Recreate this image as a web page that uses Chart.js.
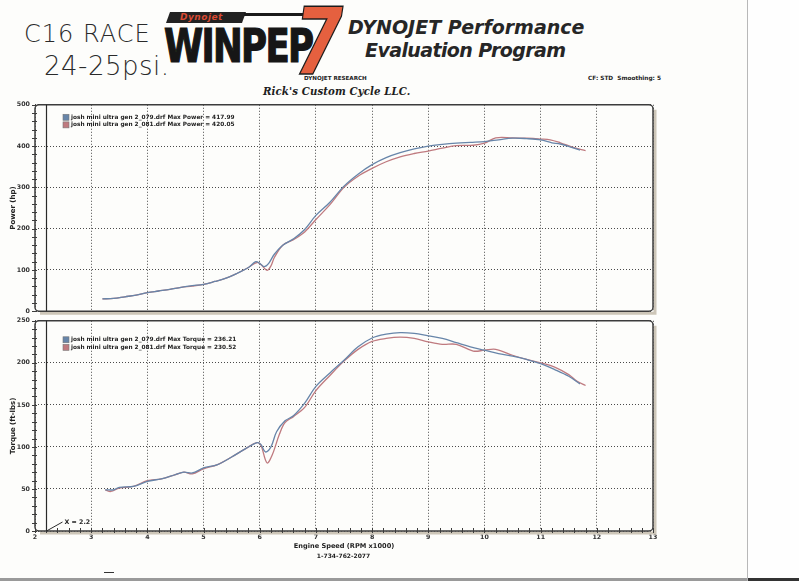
<!DOCTYPE html>
<html>
<head>
<meta charset="utf-8">
<script src="https://cdn.jsdelivr.net/npm/chart.js@4.4.1/dist/chart.umd.min.js"></script>
<style>
  body { margin: 0; width: 799px; height: 581px; position: relative; overflow: hidden; background: #fdfdfb; font-family: "DejaVu Sans", sans-serif; color: #222; }
  .abs { position: absolute; white-space: nowrap; }
  .hand { font-family: "DejaVu Sans", sans-serif; font-weight: 200; color: #2a2a2a; }
  #winpep { left: 164px; top: 18px; font-family: "DejaVu Sans Condensed", "DejaVu Sans", sans-serif; font-weight: bold; font-size: 47px; letter-spacing: -2px; transform: scaleX(0.84); transform-origin: left top; color: #161616; -webkit-text-stroke: 1.2px #161616; }
  #seven { left: 294px; top: -12px; font-family: "DejaVu Sans", sans-serif; font-weight: bold; font-style: italic; font-size: 93px; color: #e5603f; -webkit-text-stroke: 1.5px #1c1c1c; transform: scaleX(0.76); transform-origin: left top; }
  #dynoBadge { left: 168px; top: 12px; width: 76px; height: 11px; background: #222; transform: skewX(-20deg); }
  #dynoBadge span { display: block; transform: skewX(20deg); font-size: 9px; font-weight: bold; font-style: italic; color: #d84a32; line-height: 11px; padding-left: 12px; letter-spacing: 0.5px; }
  #swoosh { left: 244px; top: 13px; width: 86px; height: 3px; background: #1a1a1a; border-radius: 0 3px 3px 0; }
  .title { font-weight: bold; font-style: italic; font-size: 19px; color: #262626; }
  canvas { position: absolute; left: 0; }
</style>
</head>
<body>
<div class="abs hand" style="left:24px;top:20px;font-size:24px;letter-spacing:1px;">C16 RACE</div>
<div class="abs hand" style="left:44px;top:51px;font-size:26px;letter-spacing:0.5px;">24-25psi.</div>

<div id="dynoBadge" class="abs"><span>Dynojet</span></div>
<div id="swoosh" class="abs"></div>
<div id="winpep" class="abs">WINPEP</div>
<div id="seven" class="abs">7</div>

<div class="abs title" style="left:348px;top:16px;">DYNOJET Performance</div>
<div class="abs title" style="left:365px;top:39px;letter-spacing:-0.6px;">Evaluation Program</div>

<div class="abs" style="left:304px;top:75px;font-size:5.6px;font-weight:bold;">DYNOJET RESEARCH</div>
<div class="abs" style="left:588px;top:75px;font-size:5.8px;font-weight:bold;">CF: STD&nbsp; Smoothing: 5</div>
<div class="abs" style="left:263px;top:85px;font-family:'DejaVu Serif',serif;font-size:10.2px;font-weight:bold;font-style:italic;letter-spacing:0.1px;color:#1e1e1e;">Rick's Custom Cycle LLC.</div>

<canvas id="powerChart" width="700" height="224" style="top:96px;"></canvas>
<canvas id="torqueChart" width="700" height="269" style="top:312px;"></canvas>

<div class="abs" style="left:0;width:687px;text-align:center;top:552px;font-size:6px;font-weight:bold;">1-734-762-2077</div>
<div class="abs" style="left:104px;top:572px;width:10px;height:1px;background:#333;"></div>
<div class="abs" style="left:747px;top:0;width:1px;height:581px;background:#b8b8b8;"></div>
<div class="abs" style="left:748px;top:0;width:51px;height:578px;background:#fefefe;"></div>
<div class="abs" style="left:0;top:578px;width:747px;height:3px;background:#9a9a9a;"></div>
<div class="abs" style="left:748px;top:578px;width:51px;height:3px;background:#333;"></div>

<script>
// two dyno runs: 079 (blue) and 081 (red)
const runNames = ["josh mini ultra gen 2_079.drf", "josh mini ultra gen 2_081.drf"];
const runColors = ["#6785a9", "#bf7a7f"];
const maxPower = ["417.99", "420.05"];
const maxTorque = ["236.21", "230.52"];
const cursorRpm = 2.2;

// Power (hp) vs Engine Speed (RPM x1000)
const rpmPower079 = [3.2, 3.4, 3.6, 3.8, 4.0, 4.2, 4.4, 4.6, 4.8, 5.0, 5.2, 5.4, 5.6, 5.8, 5.93, 6.0, 6.08, 6.16, 6.26, 6.41, 6.61, 6.8, 7.0, 7.25, 7.5, 7.75, 8.0, 8.25, 8.5, 8.75, 9.0, 9.25, 9.5, 9.75, 10.0, 10.25, 10.5, 10.75, 11.0, 11.2, 11.35, 11.55, 11.7];
const power079 = [30, 31, 35, 39, 45, 49, 53, 58, 62, 65, 72, 80, 92, 106, 120, 116, 108, 116, 138, 160, 176, 198, 232, 264, 303, 332, 355, 372, 384, 393, 400, 404, 407, 409, 411, 415, 419, 418, 415, 408, 405, 397, 390];
const rpmPower081 = [3.2, 3.4, 3.6, 3.8, 4.0, 4.2, 4.4, 4.6, 4.8, 5.0, 5.2, 5.4, 5.6, 5.8, 5.95, 6.03, 6.13, 6.2, 6.26, 6.41, 6.61, 6.8, 7.0, 7.25, 7.5, 7.75, 8.0, 8.25, 8.5, 8.75, 9.0, 9.25, 9.5, 9.8, 10.0, 10.2, 10.5, 10.75, 11.0, 11.17, 11.35, 11.58, 11.8];
const power081 = [30, 31, 35, 39, 45, 49, 53, 58, 61, 65, 72, 80, 92, 106, 118, 112, 99, 110, 130, 160, 174, 192, 222, 258, 300, 327, 346, 362, 374, 382, 388, 395, 401, 402, 407, 420, 420, 419, 417, 415, 408, 397, 389];

// Torque (ft-lbs) vs Engine Speed (RPM x1000)
const rpmTorque079 = [3.25, 3.4, 3.5, 3.75, 4.0, 4.25, 4.5, 4.65, 4.8, 5.0, 5.25, 5.5, 5.75, 5.95, 6.02, 6.1, 6.2, 6.3, 6.45, 6.6, 6.8, 7.0, 7.25, 7.5, 7.75, 8.0, 8.25, 8.5, 8.75, 9.0, 9.25, 9.5, 9.75, 10.0, 10.25, 10.5, 10.75, 11.0, 11.25, 11.5, 11.7];
const torque079 = [49, 49, 52, 53, 59, 62, 67, 70, 69, 75, 79, 88, 98, 105, 103, 94, 100, 118, 131, 137, 152, 172, 188, 203, 219, 229.5, 234, 236, 235, 232, 229, 224, 219, 215, 211, 208, 204, 199, 192, 184, 175];
const rpmTorque081 = [3.25, 3.35, 3.5, 3.75, 4.0, 4.25, 4.5, 4.65, 4.8, 5.0, 5.25, 5.5, 5.75, 5.95, 6.02, 6.13, 6.22, 6.35, 6.45, 6.6, 6.8, 7.0, 7.25, 7.5, 7.75, 8.0, 8.25, 8.5, 8.75, 9.0, 9.25, 9.5, 9.8, 10.0, 10.2, 10.5, 10.75, 11.0, 11.25, 11.5, 11.65, 11.8];
const torque081 = [49, 47, 51, 53, 60, 62, 67, 70, 68, 74, 79, 88, 98, 105, 102, 81, 90, 115, 129, 136, 147, 167, 185, 202, 216, 225.5, 229, 230.5, 229, 225, 222, 222, 214, 215, 216, 209, 204, 200, 195, 186, 178, 173];

function toPoints(xs, ys) {
    return xs.map((x, i) => ({ x: x, y: ys[i] }));
}

const tickFont = { family: "DejaVu Sans", size: 6.3, weight: "bold" };

// frame, minor ticks, cursor line and the in-plot legend
const dynoPlugin = {
    id: "dyno",
    afterDraw(chart, args, opts) {
        const { ctx, chartArea: a } = chart;
        const xs = chart.scales.x, ys = chart.scales.y;
        ctx.save();

        // paper shadow right + bottom
        ctx.strokeStyle = "#cdc6b8";
        ctx.lineWidth = 3;
        ctx.beginPath();
        ctx.moveTo(a.right + 2, a.top + 5);
        ctx.lineTo(a.right + 2, a.bottom + 2);
        ctx.lineTo(a.left + 5, a.bottom + 2);
        ctx.stroke();

        ctx.strokeStyle = "#3c3c3c";
        ctx.lineWidth = 1.5;
        ctx.beginPath();
        ctx.roundRect(a.left, a.top, a.right - a.left, a.bottom - a.top, 4);
        ctx.stroke();

        // minor ticks
        ctx.lineWidth = 1;
        ctx.beginPath();
        for (let v = ys.min; v <= ys.max + 0.001; v += opts.minorY) {
            const py = Math.round(ys.getPixelForValue(v)) + 0.5;
            ctx.moveTo(a.left - 3, py);
            ctx.lineTo(a.left + 2, py);
        }
        if (opts.xTicks) {
            for (let v = xs.min; v <= xs.max + 0.001; v += 0.2) {
                const px = Math.round(xs.getPixelForValue(v)) + 0.5;
                ctx.moveTo(px, a.bottom - 3);
                ctx.lineTo(px, a.bottom + 2);
            }
        }
        ctx.stroke();

        // cursor line
        const cx = Math.round(xs.getPixelForValue(cursorRpm)) + 0.5;
        ctx.strokeStyle = "#2a2a2a";
        ctx.lineWidth = 1.2;
        ctx.beginPath();
        ctx.moveTo(cx, a.top);
        ctx.lineTo(cx, a.bottom);
        ctx.stroke();
        if (opts.cursorLabel) {
            ctx.lineWidth = 1;
            ctx.beginPath();
            ctx.moveTo(cx, a.bottom);
            ctx.lineTo(cx + 16, a.bottom - 9);
            ctx.stroke();
            ctx.fillStyle = "#222";
            ctx.font = "bold 6.3px 'DejaVu Sans'";
            ctx.textBaseline = "middle";
            ctx.fillText("X = " + cursorRpm.toFixed(1), cx + 18, a.bottom - 9);
        }

        // legend
        ctx.font = "bold 5.8px 'DejaVu Sans'";
        ctx.textBaseline = "middle";
        chart.data.datasets.forEach((ds, i) => {
            const ly = a.top + opts.legendTop + i * 7.6;
            const lx = a.left + 28;
            ctx.fillStyle = ds.borderColor;
            ctx.fillRect(lx, ly - 3, 6, 6);
            ctx.strokeStyle = "#777";
            ctx.lineWidth = 0.6;
            ctx.strokeRect(lx, ly - 3, 6, 6);
            ctx.fillStyle = "#222";
            ctx.fillText(ds.label, lx + 8, ly);
        });
        ctx.restore();
    }
};

function makeDataset(label, pts, color) {
    return {
        label: label,
        data: pts,
        borderColor: color,
        backgroundColor: color,
        borderWidth: 1.3,
        pointRadius: 0,
        tension: 0.35,
        fill: false
    };
}

function makeChart(id, cfg) {
    const ctx = document.getElementById(id).getContext("2d");
    return new Chart(ctx, {
        type: "line",
        data: { datasets: cfg.datasets },
        options: {
            responsive: false,
            animation: false,
            layout: { padding: cfg.padding },
            plugins: {
                legend: { display: false },
                tooltip: { enabled: false },
                dyno: cfg.dyno
            },
            scales: {
                x: {
                    type: "linear",
                    min: 2,
                    max: 13,
                    ticks: { stepSize: 1, display: cfg.showX, font: tickFont, color: "#333", padding: 3, autoSkip: false, maxRotation: 0 },
                    grid: { color: "#4a4a4a", lineWidth: 1, drawTicks: false },
                    border: { display: false, dash: [1, 2] },
                    title: {
                        display: cfg.showX,
                        text: "Engine Speed (RPM x1000)",
                        font: { family: "DejaVu Sans", size: 6.6, weight: "bold" },
                        color: "#222",
                        padding: 0
                    },
                    afterFit(scale) { scale.height = cfg.xHeight; }
                },
                y: {
                    min: 0,
                    max: cfg.yMax,
                    ticks: { stepSize: cfg.yStep, font: tickFont, color: "#333", padding: 5, autoSkip: false },
                    grid: { color: "#4a4a4a", lineWidth: 1, drawTicks: false },
                    border: { display: false, dash: [1, 2] },
                    title: {
                        display: true,
                        text: cfg.yTitle,
                        font: { family: "DejaVu Sans", size: 7, weight: "bold" },
                        color: "#222",
                        padding: { top: 9, bottom: 0 }
                    },
                    afterFit(scale) { scale.width = 35; }
                }
            }
        },
        plugins: [dynoPlugin]
    });
}

makeChart("powerChart", {
    datasets: [
        makeDataset(runNames[0] + " Max Power = " + maxPower[0], toPoints(rpmPower079, power079), runColors[0]),
        makeDataset(runNames[1] + " Max Power = " + maxPower[1], toPoints(rpmPower081, power081), runColors[1])
    ],
    padding: { top: 8, right: 47, bottom: 5, left: 0 },
    yMax: 500,
    yStep: 100,
    yTitle: "Power (hp)",
    showX: false,
    xHeight: 0,
    dyno: { minorY: 20, xTicks: false, cursorLabel: false, legendTop: 12.5 }
});

makeChart("torqueChart", {
    datasets: [
        makeDataset(runNames[0] + " Max Torque = " + maxTorque[0], toPoints(rpmTorque079, torque079), runColors[0]),
        makeDataset(runNames[1] + " Max Torque = " + maxTorque[1], toPoints(rpmTorque081, torque081), runColors[1])
    ],
    padding: { top: 8, right: 47, bottom: 31, left: 0 },
    yMax: 250,
    yStep: 50,
    yTitle: "Torque (ft-lbs)",
    showX: true,
    xHeight: 19,
    dyno: { minorY: 10, xTicks: true, cursorLabel: true, legendTop: 19 }
});
</script>
</body>
</html>
